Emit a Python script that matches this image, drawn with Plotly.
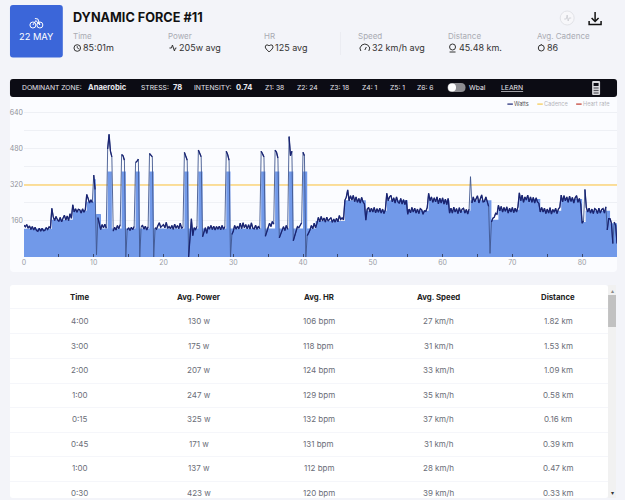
import numpy as np
import plotly.graph_objects as go

FONT = "Inter"
W, H = 625, 500

# watts, one row per minute, five samples each
watts = [
    142, 134, 144, 128, 138,
    122, 135, 120, 132, 118,
    114, 128, 115, 127, 117,
    118, 131, 122, 134, 128,
    216, 178, 162, 180, 166,
    158, 176, 156, 172, 186,
    164, 182, 162, 192, 172,
    232, 200, 214, 199, 212,
    210, 195, 214, 199, 211,
    278, 260, 240, 254, 242,
    364, 300, 10, 175, 150,
    122, 144, 130, 146, 128,
    480, 545, 470, 445, 115,
    132, 120, 140, 126, 144,
    455, 450, 430, 0, 120,
    130, 118, 132, 122, 136,
    420, 425, 435, 0, 135,
    140, 124, 137, 120, 134,
    460, 450, 445, 0, 130,
    124, 140, 152, 132, 138,
    144, 130, 154, 127, 135,
    126, 140, 123, 146, 128,
    140, 126, 150, 127, 134,
    465, 450, 430, 0, 85,
    170, 95, 130, 122, 136,
    475, 460, 445, 90, 110,
    130, 105, 135, 124, 140,
    122, 137, 120, 135, 124,
    137, 121, 140, 123, 135,
    470, 455, 430, 0, 100,
    114, 140, 124, 137, 125,
    150, 126, 152, 130, 144,
    125, 143, 124, 152, 128,
    125, 141, 123, 137, 126,
    470, 460, 445, 92, 110,
    126, 150, 135, 158, 146,
    475, 465, 440, 85, 105,
    120, 135, 118, 140, 123,
    535, 450, 470, 72, 90,
    110, 135, 130, 144, 152,
    465, 450, 0, 95, 105,
    120, 140, 126, 150, 130,
    150, 176, 156, 180, 160,
    173, 155, 177, 160, 167,
    175, 154, 169, 155, 172,
    156, 184, 167, 174, 165,
    252, 266, 298, 250, 272,
    253, 274, 246, 267, 243,
    260, 240, 265, 245, 236,
    164, 213, 220, 200, 217,
    200, 220, 196, 215, 199,
    217, 195, 213, 193, 210,
    283, 250, 267, 274, 245,
    263, 240, 267, 245, 238,
    260, 235, 255, 233, 252,
    190, 213, 196, 220, 200,
    217, 195, 213, 193, 215,
    210, 190, 205, 203, 220,
    283, 250, 267, 243, 263,
    245, 267, 236, 261, 240,
    263, 235, 257, 233, 260,
    195, 217, 195, 221, 200,
    215, 193, 219, 197, 213,
    217, 195, 211, 191, 213,
    357, 240, 267, 245, 263,
    272, 240, 263, 276, 245,
    247, 267, 243, 225, 16,
    155, 172, 176, 194, 190,
    230, 205, 225, 200, 220,
    203, 223, 195, 217, 200,
    220, 197, 217, 200, 223,
    285, 250, 275, 243, 267,
    253, 275, 245, 267, 243,
    265, 240, 263, 245, 238,
    200, 220, 200, 217, 193,
    213, 195, 219, 191, 211,
    199, 217, 193, 213, 221,
    275, 245, 273, 250, 267,
    243, 270, 247, 265, 240,
    263, 273, 243, 260, 235,
    150, 160, 300, 220, 200,
    217, 195, 213, 193, 215,
    210, 193, 217, 195, 211,
    215, 195, 223, 120, 170,
    170, 150, 60, 155, 140,
    60,
]

# planned power, drawn as the blue steps
plan_min = [0, 4, 7, 9, 10, 10.3, 11, 12, 12.6, 14, 14.6, 16, 16.6, 18, 18.6,
            23, 23.6, 25, 25.6, 29, 29.6, 34, 34.6, 36, 36.6, 38, 38.6, 40, 40.6,
            41.8, 46, 49, 52, 55, 58, 61, 64, 67, 68, 71, 74, 77, 80, 80.5, 84, 85]
plan_w = [125, 165, 205, 245, 345, 190, 127, 380, 127, 380, 127, 380, 127, 380, 127,
          380, 127, 380, 127, 380, 127, 380, 127, 380, 127, 380, 127, 380, 127,
          160, 252, 205, 252, 205, 252, 205, 252, 165, 210, 258, 205, 258, 155, 205, 150, 150]

surge_min = [10.7]
surge_base = [145]
surge_h = [45]

cadence_min = [0, 85]
cadence = [320, 320]

x_ticks = [0, 5, 10, 15, 20, 25, 30, 35, 40, 45, 50, 55, 60, 65, 70, 75, 80]
x_labels = ["0", "", "10", "", "20", "", "30", "", "40", "", "50", "", "60", "", "70", "", "80"]
y_ticks = [80, 160, 240, 320, 400, 480, 560, 640]
y_labels = ["", "160", "", "320", "", "480", "", "640"]

stats_labels = ["Time", "Power", "HR", "Speed", "Distance", "Avg. Cadence"]
stats_values = ["85:01m", "205w avg", "125 avg", "32 km/h avg", "45.48 km.", "86"]

table_head = ["Time", "Avg. Power", "Avg. HR", "Avg. Speed", "Distance"]
lap_time = ["4:00", "3:00", "2:00", "1:00", "0:15", "0:45", "1:00", "0:30"]
lap_power = ["130 w", "175 w", "207 w", "247 w", "325 w", "171 w", "137 w", "423 w"]
lap_hr = ["106 bpm", "118 bpm", "124 bpm", "129 bpm", "132 bpm", "131 bpm", "112 bpm", "120 bpm"]
lap_speed = ["27 km/h", "31 km/h", "33 km/h", "35 km/h", "37 km/h", "31 km/h", "28 km/h", "39 km/h"]
lap_dist = ["1.82 km", "1.53 km", "1.09 km", "0.58 km", "0.16 km", "0.39 km", "0.47 km", "0.33 km"]

shapes = []
notes = []


def px(x):
    return x / W


def py(y):
    return 1 - y / H


def rect(x0, y0, x1, y1, color):
    shapes.append(dict(type="rect", xref="paper", yref="paper", x0=px(x0), x1=px(x1),
                       y0=py(y1), y1=py(y0), fillcolor=color, line_width=0, layer="below"))


def round_rect(x0, y0, x1, y1, r, color):
    d = (f"M {px(x0 + r)} {py(y0)} L {px(x1 - r)} {py(y0)} Q {px(x1)} {py(y0)} {px(x1)} {py(y0 + r)} "
         f"L {px(x1)} {py(y1 - r)} Q {px(x1)} {py(y1)} {px(x1 - r)} {py(y1)} "
         f"L {px(x0 + r)} {py(y1)} Q {px(x0)} {py(y1)} {px(x0)} {py(y1 - r)} "
         f"L {px(x0)} {py(y0 + r)} Q {px(x0)} {py(y0)} {px(x0 + r)} {py(y0)} Z")
    shapes.append(dict(type="path", xref="paper", yref="paper", path=d, fillcolor=color,
                       line_width=0, layer="below"))


def line(pts, color="#333333", width=1):
    d = "M " + " L ".join(f"{px(a)} {py(b)}" for a, b in pts)
    shapes.append(dict(type="path", xref="paper", yref="paper", path=d,
                       line=dict(color=color, width=width)))


def ring(cx, cy, r, color="#333333", width=1, fill=None):
    shapes.append(dict(type="circle", xref="paper", yref="paper", x0=px(cx - r), x1=px(cx + r),
                       y0=py(cy + r), y1=py(cy - r), line=dict(color=color, width=width),
                       fillcolor=fill or "rgba(0,0,0,0)"))


def text(x, y, s, size=8, color="#333333", anchor="left", bold=False):
    # annotations sit about 2px right of the asked position
    if anchor == "left":
        x = x - 2
    notes.append(dict(xref="paper", yref="paper", x=px(x), y=py(y), text=f"<b>{s}</b>" if bold else s,
                      showarrow=False, xanchor=anchor, yanchor="middle", borderpad=0,
                      font=dict(family=FONT, size=size, color=color)))


# page panels
round_rect(8, 5, 61, 57.5, 3, "#3b66d9")
round_rect(8, 79, 617, 272, 4, "#fbfcff")
round_rect(8, 79, 617, 97, 3, "#0c0c14")
round_rect(8, 285, 608, 498, 3, "#ffffff")

# header
ring(31, 25, 3, "#ffffff", 1)
ring(38, 25, 3, "#ffffff", 1)
line([(31, 25), (34, 20.5), (38, 25)], "#ffffff", 1)
line([(33, 18.5), (36, 19), (38, 25)], "#ffffff", 1)
text(34.5, 37, "22 MAY", 9.3, "#ffffff", "center")
text(72, 17.5, "DYNAMIC FORCE #11", 12.7, "#111111", bold=True)

stats_x = [72, 168, 264, 358, 448, 538]
value_x = [82, 179, 275, 372, 459, 548]
for lx, vx, lab, val in zip(stats_x, value_x, stats_labels, stats_values):
    text(lx, 36.5, lab, 8, "#a9abb3")
    text(vx, 48, val, 9, "#333333")
rect(339, 32, 340, 55, "#ebecf1")

# small stat icons
ring(75.5, 48, 3.3)
line([(75.5, 46), (75.5, 48), (77.5, 49)], width=0.8)
line([(168, 48), (170, 48), (171, 45), (173, 51), (174, 48), (175, 48)])
line([(268, 46), (267, 45), (265, 45), (264, 47), (265, 49), (268, 52), (271, 49), (272, 47),
      (271, 45), (269, 45), (268, 46)])
line([(360, 51), (359, 48), (361, 45), (364, 44), (367, 45), (369, 48), (368, 51)])
line([(364, 50), (365.5, 47)])
ring(452, 47, 3)
line([(449, 52), (455, 52)])
ring(541, 48, 3)
line([(541, 44), (541, 45)])

ring(567, 18, 7, "#e2e3e8", 1, "#f7f7fa")
line([(564, 19), (566, 19), (567, 15), (568, 21), (569, 18), (571, 18)], "#c9cad0", 0.8)
line([(595, 12), (595, 21)], "#111111", 1.5)
line([(591.5, 18), (595, 21.5), (598.5, 18)], "#111111", 1.5)
line([(589, 21), (589, 24.5), (601, 24.5), (601, 21)], "#111111", 1.5)

# dark stats bar
for bx, s, bold in [(21, "DOMINANT ZONE:", False), (87.5, "Anaerobic", True), (140, "STRESS:", False),
                    (173, "78", True), (194, "INTENSITY:", False), (236, "0.74", True),
                    (265, "Z1: 38", False), (297, "Z2: 24", False), (330, "Z3: 18", False),
                    (362, "Z4: 1", False), (390, "Z5: 1", False), (417, "Z6: 6", False),
                    (469, "Wbal", False), (502, "<u>LEARN</u>", False)]:
    text(bx, 87.5, s, 7.6 if bold else 6.8, "#e8e8ee", bold=bold)
round_rect(447, 83, 465, 92, 4.5, "#8d8d92")
ring(451.5, 87.5, 4, "#ffffff", 0, "#ffffff")
round_rect(592, 81, 600, 95, 1, "#d8d8dc")
rect(593.5, 83, 598.5, 86, "#0c0c14")
for gy in [88, 90.5, 93]:
    rect(593.5, gy - 0.6, 598.5, gy + 0.6, "#55555c")

# legend
for sx, tx, col, s, tc in [(507, 515, "#1a2472", "Watts", "#555555"), (537, 545, "#f5c94c", "Cadence", "#b5b5bb"),
                           (576, 584, "#c0392b", "Heart rate", "#b5b5bb")]:
    rect(sx, 103.5, sx + 5.5, 104.7, col)
    text(tx, 104, s, 5.6, tc)

# table
rows_y = [321, 346, 370, 395, 419, 444, 468, 493]
rules_y = [308, 333, 358, 383, 407, 432, 456, 481]
cols_x = [78, 198, 318, 438, 558]
for ry in rules_y:
    rect(8, ry, 608, ry + 1, "#f5f6fa")
for cx, head, col in zip(cols_x, table_head, [lap_time, lap_power, lap_hr, lap_speed, lap_dist]):
    text(cx, 296.5, head, 7.8, "#222222", "center", True)
    for ry, val in zip(rows_y, col):
        text(cx, ry, val, 8, "#6b6e78", "center")

# scrollbar
rect(608, 285, 616, 498, "#f1f1f1")
rect(608, 295, 616, 327, "#c1c1c1")
text(612, 290, "▴", 6, "#8a8a8a", "center")
text(612, 492, "▾", 6, "#333333", "center")

minutes = np.arange(len(watts)) / 5

# big jumps get the paler colour, so break the dark line there
steady = np.array(watts, dtype=float)
jump_at = np.where(np.abs(np.diff(steady)) > 90)[0] + 1
dark_x = np.insert(minutes, jump_at, np.nan)
dark_y = np.insert(steady, jump_at, np.nan)

fig = go.Figure()
fig.add_trace(go.Scatter(x=cadence_min, y=cadence, mode="lines", name="Cadence",
                         line=dict(color="#fcd67a", width=1.4)))
fig.add_trace(go.Scatter(x=plan_min, y=plan_w, mode="lines", name="Plan", fill="tozeroy",
                         fillcolor="#7199e9", line=dict(color="#7199e9", width=0, shape="hv")))
fig.add_trace(go.Bar(x=surge_min, y=surge_h, base=surge_base, width=0.6, marker_color="#2c62d4",
                     marker_line_width=0, name="Surge"))
fig.add_trace(go.Scatter(x=minutes, y=watts, mode="lines", name="Watts edge",
                         line=dict(color="#41578f", width=0.9)))
fig.add_trace(go.Scatter(x=dark_x, y=dark_y, mode="lines", name="Watts",
                         line=dict(color="#1a2472", width=1.3)))

fig.update_layout(
    width=W,
    height=H,
    showlegend=False,
    paper_bgcolor="#f3f4f9",
    plot_bgcolor="#f9faff",
    margin=dict(l=0, r=0, t=0, b=0),
    shapes=shapes,
    annotations=notes,
    font=dict(family=FONT),
)
fig.update_xaxes(
    domain=[px(22), px(617)], range=[0, 85], tickvals=x_ticks, ticktext=x_labels,
    ticks="inside", ticklen=3, tickcolor="#39486f", tickwidth=1,
    tickfont=dict(size=7, color="#9a9ca5"), showgrid=False, zeroline=False, showline=False,
)
fig.update_yaxes(
    domain=[py(257), py(97)], range=[0, 711], tickvals=y_ticks, ticktext=y_labels,
    tickfont=dict(size=7, color="#8f9199"), gridcolor="#eef0f5", gridwidth=1,
    zeroline=False, showline=False, ticks="",
)

fig.write_html("out.html", config={"displayModeBar": False},
               post_script="document.body.style.margin='0';document.body.style.background='#f3f4f9';")
